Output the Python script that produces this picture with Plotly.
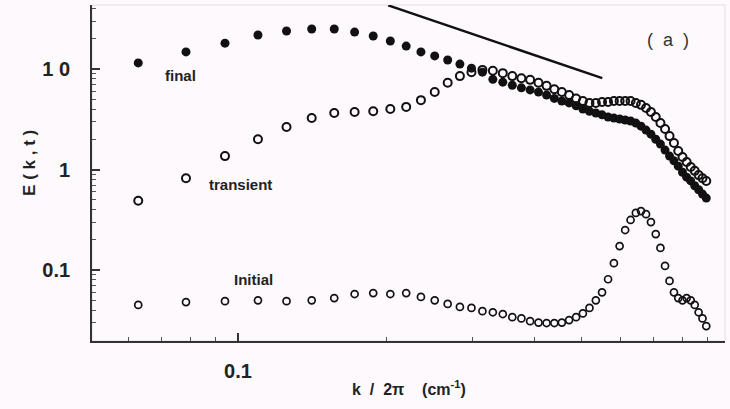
import plotly.graph_objects as go

# wavenumber k/2pi (cm^-1), shared by all three spectra
k = [0.0627, 0.0784, 0.0941, 0.1098, 0.1255, 0.1412, 0.1569, 0.1726, 0.1883, 0.2040,
     0.2197, 0.2354, 0.2511, 0.2668, 0.2825, 0.2982, 0.3139, 0.3296, 0.3453, 0.3610,
     0.3767, 0.3924, 0.4081, 0.4238, 0.4395, 0.4552, 0.4709, 0.4866, 0.5023, 0.5180,
     0.5337, 0.5494, 0.5651, 0.5808, 0.5965, 0.6122, 0.6279, 0.6436, 0.6593, 0.6750,
     0.6907, 0.7064, 0.7221, 0.7378, 0.7535, 0.7692, 0.7849, 0.8006, 0.8163, 0.8320,
     0.8477, 0.8634, 0.8791, 0.8948]

E_final = [11.5, 14.8, 18.1, 21.8, 23.9, 25.0, 25.0, 23.3, 21.3, 19.0,
           16.9, 14.8, 13.5, 12.3, 11.2, 10.2, 9.3, 7.9, 7.4, 6.9,
           6.5, 6.2, 5.9, 5.5, 5.1, 4.8, 4.6, 4.3, 4.0, 3.8,
           3.65, 3.5, 3.33, 3.25, 3.18, 3.11, 3.04, 2.9, 2.7, 2.47,
           2.25, 2.0, 1.79, 1.56, 1.36, 1.22, 1.08, 0.94, 0.84, 0.77,
           0.69, 0.63, 0.57, 0.52]

E_transient = [0.49, 0.82, 1.36, 2.0, 2.65, 3.25, 3.65, 3.73, 3.8, 4.0,
               4.2, 4.9, 5.9, 7.3, 8.5, 9.3, 9.8, 9.6, 9.1, 8.5,
               8.1, 7.8, 7.3, 6.8, 6.3, 5.9, 5.5, 5.1, 4.8, 4.6,
               4.6, 4.7, 4.7, 4.8, 4.8, 4.8, 4.8, 4.6, 4.4, 4.1,
               3.73, 3.33, 2.9, 2.53, 2.15, 1.84, 1.53, 1.33, 1.19, 1.06,
               0.97, 0.88, 0.82, 0.77]

E_initial = [0.045, 0.048, 0.049, 0.050, 0.049, 0.050, 0.0526, 0.0577, 0.059, 0.0577,
             0.059, 0.054, 0.050, 0.046, 0.043, 0.042, 0.039, 0.038, 0.0365, 0.034,
             0.033, 0.031, 0.030, 0.0297, 0.0297, 0.030, 0.0318, 0.034, 0.037, 0.042,
             0.050, 0.060, 0.081, 0.117, 0.173, 0.25, 0.315, 0.37, 0.386, 0.36,
             0.30, 0.228, 0.166, 0.110, 0.078, 0.060, 0.0526, 0.050, 0.0526, 0.050,
             0.045, 0.038, 0.033, 0.0277]

# k^(-5/3) reference slope
k_ref = [0.202, 0.55]
E_ref = [43.0, 8.1]

ink = "#111111"
font = "Liberation Sans, Arial, sans-serif"

fig = go.Figure()
fig.add_trace(go.Scatter(x=k_ref, y=E_ref, mode="lines",
                         line=dict(color=ink, width=2.4), showlegend=False))
fig.add_trace(go.Scatter(x=k, y=E_initial, mode="markers",
                         marker=dict(symbol="circle-open", size=7, color=ink,
                                     line=dict(width=1.7, color=ink)),
                         showlegend=False))
fig.add_trace(go.Scatter(x=k, y=E_transient, mode="markers",
                         marker=dict(symbol="circle-open", size=8, color=ink,
                                     line=dict(width=2, color=ink)),
                         showlegend=False))
fig.add_trace(go.Scatter(x=k, y=E_final, mode="markers",
                         marker=dict(symbol="circle", size=9, color=ink),
                         showlegend=False))

labels = [("final", 0.112, 0.789), ("transient", 0.182, 0.467), ("Initial", 0.221, 0.182)]
annotations = [dict(text="<b>" + t + "</b>", x=x, y=y, xref="paper", yref="paper",
                    xanchor="left", yanchor="middle", showarrow=False,
                    font=dict(family=font, size=15, color="#222222"))
               for t, x, y in labels]
annotations.append(dict(text="(  a  )", x=0.910, y=0.896, xref="paper", yref="paper",
                        xanchor="center", yanchor="middle", showarrow=False,
                        font=dict(family=font, size=18, color="#333333")))
annotations.append(dict(text="<b>k  /  2π    (cm<sup>-1</sup>)</b>", x=0.50, y=-0.14,
                        xref="paper", yref="paper", xanchor="center", yanchor="middle",
                        showarrow=False, font=dict(family=font, size=16, color="#222222")))
annotations.append(dict(text="<b>E ( k , t )</b>", x=-0.098, y=0.53, xref="paper",
                        yref="paper", xanchor="center", yanchor="middle", textangle=-90,
                        showarrow=False, font=dict(family=font, size=17, color="#222222")))

fig.update_layout(
    width=730, height=409,
    margin=dict(l=92, r=5, t=5, b=68),
    paper_bgcolor="#fdf9fd", plot_bgcolor="#fdf9fd",
    annotations=annotations,
    shapes=[dict(type="rect", xref="paper", yref="paper", x0=0, y0=0, x1=1, y1=1,
                 line=dict(color="#e4dee4", width=1), layer="below")],
)
fig.update_xaxes(type="log", range=[-1.2967, -0.0102], showgrid=False, zeroline=False,
                 showline=True, linecolor="#333333", linewidth=1.8,
                 ticks="inside", ticklen=8, tickwidth=1.5, tickcolor="#333333",
                 tickvals=[0.1, 1], ticktext=["<b>0.1</b>", "<b>1</b>"], ticklabelstandoff=11,
                 tickfont=dict(family=font, size=20, color="#222222"),
                 minor=dict(ticks="inside", ticklen=4, tickwidth=1, tickcolor="#555555",
                            dtick="D1"))
fig.update_yaxes(type="log", range=[-1.706, 1.637], showgrid=False, zeroline=False,
                 showline=True, linecolor="#333333", linewidth=1.8,
                 ticks="inside", ticklen=8, tickwidth=1.5, tickcolor="#333333",
                 tickvals=[0.1, 1, 10], ticktext=["<b>0.1</b>", "<b>1</b>", "<b>1 0</b>"],
                 ticklabelstandoff=16,
                 tickfont=dict(family=font, size=20, color="#222222"),
                 minor=dict(ticks="inside", ticklen=4, tickwidth=1, tickcolor="#555555",
                            dtick="D1"))

fig.write_html("out.html")
